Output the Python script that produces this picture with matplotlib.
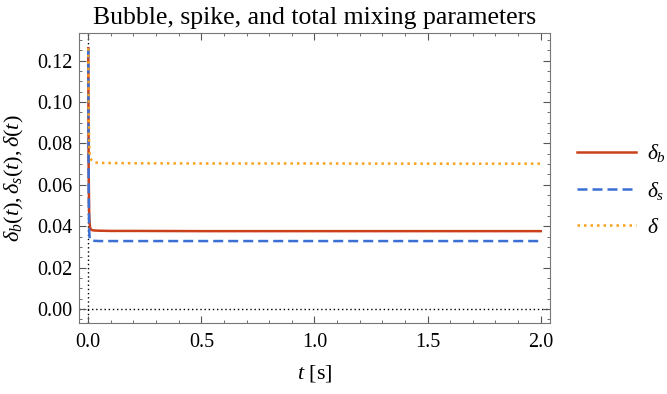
import matplotlib
matplotlib.use("Agg")
import matplotlib.pyplot as plt
from matplotlib.ticker import MultipleLocator, FormatStrFormatter

plt.rcParams["font.family"] = ["Liberation Serif", "DejaVu Serif"]
plt.rcParams["mathtext.fontset"] = "custom"
plt.rcParams["mathtext.rm"] = "Liberation Serif"
plt.rcParams["mathtext.it"] = "Liberation Serif:italic"

# time samples [s] and mixing parameters
t = [0.0, 0.001, 0.002, 0.004, 0.006, 0.008, 0.010, 0.015, 0.020, 0.030,
     0.050, 0.100, 0.200, 0.500, 1.000, 1.500, 2.000]
delta_b = [0.126, 0.095, 0.066, 0.047, 0.0415, 0.0395, 0.0387, 0.0382, 0.0380, 0.0379,
           0.0378, 0.0377, 0.0377, 0.0376, 0.0376, 0.0376, 0.0376]
delta_s = [0.126, 0.085, 0.055, 0.038, 0.0345, 0.0336, 0.0332, 0.0330, 0.0329, 0.0329,
           0.0328, 0.0328, 0.0328, 0.0328, 0.0328, 0.0328, 0.0328]
delta = [0.126, 0.112, 0.095, 0.080, 0.0755, 0.0738, 0.0728, 0.0718, 0.0712, 0.0708,
         0.0706, 0.0705, 0.0704, 0.0703, 0.0703, 0.0702, 0.0702]

labels = [r"$\delta_b$", r"$\delta_s$", r"$\delta$"]
colors = ["#c9401b", "#3b6fd4", "#f8a11c"]

fig = plt.figure(figsize=(6.67, 3.94), dpi=100)
ax = fig.add_axes([0.1184, 0.1802, 0.7062, 0.7373])

# dotted axes through the origin
ax.axhline(0, color="black", lw=1, ls=(0, (1, 2)), zorder=1)
ax.axvline(0, color="black", lw=1, ls=(0, (1, 2)), zorder=1)

ax.plot(t, delta_b, color=colors[0], lw=1.8, ls="-", label=labels[0], zorder=3)
ax.plot(t, delta_s, color=colors[1], lw=1.8, ls=(0, (4, 2)), label=labels[1], zorder=3)
ax.plot(t, delta, color=colors[2], lw=1.8, ls=(0, (1, 1.6)), label=labels[2], zorder=3)

ax.set_xlim(-0.041, 2.041)
ax.set_ylim(-0.0068, 0.1336)
ax.xaxis.set_major_locator(MultipleLocator(0.5))
ax.xaxis.set_minor_locator(MultipleLocator(0.1))
ax.yaxis.set_major_locator(MultipleLocator(0.02))
ax.yaxis.set_minor_locator(MultipleLocator(0.005))
ax.xaxis.set_major_formatter(FormatStrFormatter("%.1f"))
ax.yaxis.set_major_formatter(FormatStrFormatter("%.2f"))

ax.tick_params(which="both", direction="in", top=True, right=True,
               color="#555555", labelsize=14.5, labelcolor="black")
ax.tick_params(which="major", length=5, width=0.8)
ax.tick_params(which="minor", length=2.5, width=0.6)
ax.tick_params(axis="x", pad=7)
ax.tick_params(axis="y", pad=4.5)
for s in ax.spines.values():
    s.set_color("#777777")
    s.set_linewidth(0.8)

ax.set_title("Bubble, spike, and total mixing parameters", fontsize=18.5, pad=6)
ax.set_xlabel(r"$t$ [s]", fontsize=16, labelpad=8)
ax.set_ylabel(r"$\delta_b(t), \delta_s(t), \delta(t)$", fontsize=16, labelpad=8)

fig.legend(loc="center left", bbox_to_anchor=(577 / 667, 1 - 190 / 394), frameon=False,
           borderpad=0, borderaxespad=0, fontsize=15.5, handlelength=2.75,
           handletextpad=0.5, labelspacing=0.72)

fig.savefig("out.png", dpi=100)
